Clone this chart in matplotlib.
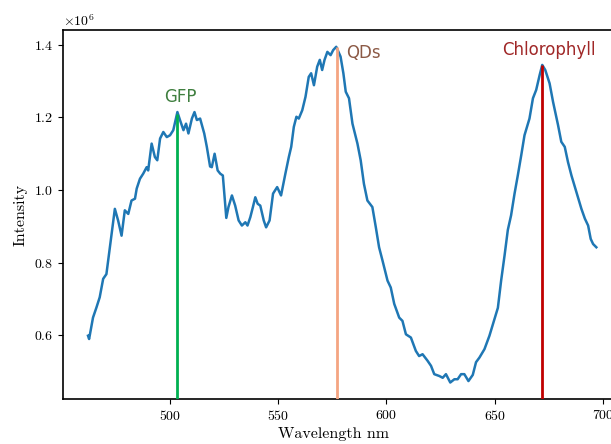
import matplotlib
matplotlib.use("Agg")
import matplotlib.pyplot as plt
import numpy as np

plt.rcParams['font.family'] = ['cmr10']
plt.rcParams['mathtext.fontset'] = 'cm'
plt.rcParams['axes.formatter.use_mathtext'] = True

wavelength = [
    462.1, 462.6, 464.4, 466.0, 467.5, 469.1, 470.6, 472.2, 474.5, 476.0, 477.6, 479.1,
    480.7, 482.2, 483.8, 484.6, 486.1, 487.6, 489.2, 489.9, 491.5, 493.0, 494.1, 495.4,
    496.9, 498.5, 500.0, 501.5, 503.4, 504.6, 506.2, 507.4, 508.5, 510.1, 511.3, 512.4,
    513.9, 515.8, 517.0, 518.5, 519.3, 520.6, 522.0, 523.2, 524.4, 526.0, 527.0, 528.6,
    530.1, 531.7, 533.2, 534.8, 535.8, 537.1, 538.3, 539.4, 540.5, 541.7, 543.3, 544.4,
    546.0, 547.6, 549.5, 551.3, 553.3, 554.9, 556.0, 557.2, 558.4, 559.5, 561.1, 562.6,
    564.1, 565.2, 566.5, 568.0, 569.2, 570.3, 571.4, 572.7, 574.2, 575.4, 576.8, 578.8,
    580.1, 581.2, 582.7, 584.3, 586.6, 588.1, 589.6, 591.2, 593.5, 595.1, 596.6, 598.2,
    600.5, 602.0, 603.6, 605.9, 607.4, 609.0, 611.3, 613.6, 615.1, 616.7, 619.0, 620.6,
    622.1, 624.4, 626.0, 627.5, 629.5, 631.4, 632.9, 634.5, 636.0, 637.9, 639.9, 641.4,
    643.0, 645.3, 647.6, 649.9, 651.5, 653.0, 654.6, 656.1, 657.6, 659.2, 660.7, 662.3,
    663.8, 666.1, 667.7, 669.2, 670.8, 672.0, 673.4, 675.4, 677.0, 679.3, 680.8, 682.4,
    683.9, 685.5, 687.8, 690.1, 691.7, 693.2, 694.4, 695.5, 697.0,
]
intensity_e6 = [
    0.598, 0.589, 0.648, 0.676, 0.704, 0.755, 0.768, 0.842, 0.948, 0.916, 0.874, 0.944,
    0.934, 0.971, 0.976, 1.004, 1.031, 1.045, 1.063, 1.054, 1.128, 1.091, 1.082, 1.142,
    1.160, 1.146, 1.151, 1.165, 1.215, 1.193, 1.165, 1.183, 1.156, 1.197, 1.215, 1.193,
    1.197, 1.156, 1.119, 1.065, 1.063, 1.100, 1.054, 1.045, 1.040, 0.923, 0.953, 0.985,
    0.957, 0.916, 0.902, 0.911, 0.902, 0.925, 0.953, 0.980, 0.962, 0.957, 0.916, 0.897,
    0.916, 0.990, 1.008, 0.985, 1.045, 1.091, 1.119, 1.174, 1.202, 1.197, 1.220, 1.257,
    1.312, 1.322, 1.289, 1.340, 1.359, 1.331, 1.359, 1.381, 1.372, 1.386, 1.395, 1.368,
    1.322, 1.271, 1.253, 1.183, 1.128, 1.082, 1.017, 0.971, 0.953, 0.897, 0.842, 0.805,
    0.750, 0.731, 0.686, 0.648, 0.639, 0.602, 0.593, 0.556, 0.542, 0.547, 0.529, 0.515,
    0.492, 0.487, 0.482, 0.492, 0.469, 0.478, 0.478, 0.492, 0.492, 0.473, 0.490, 0.525,
    0.538, 0.561, 0.598, 0.644, 0.675, 0.750, 0.820, 0.890, 0.930, 0.990, 1.040, 1.096,
    1.151, 1.197, 1.253, 1.276, 1.317, 1.345, 1.331, 1.294, 1.243, 1.179, 1.133, 1.119,
    1.077, 1.040, 0.994, 0.948, 0.921, 0.902, 0.865, 0.851, 0.842,
]

marker_names = ["GFP", "QDs", "Chlorophyll"]
marker_wl = [503, 577, 672]
marker_top_e6 = [1.21, 1.395, 1.345]
marker_colors = ["#00b050", "#f4a582", "#c00000"]
label_colors = ["#3f7f3f", "#8c5a46", "#a02828"]
label_pos = [(505.0, 1.257), (589.3, 1.379), (675.2, 1.385)]

W, H = 611, 444
fig = plt.figure(figsize=(W / 100, H / 100), dpi=100)
left_px, right_px = 62.7, 672.0
ax = fig.add_axes([left_px / W, 0.1007, (right_px - left_px) / W, 0.8317])

y = np.array(intensity_e6) * 1e6
ax.plot(wavelength, y, color="#1f77b4", lw=1.8, zorder=2)
ylo, yhi = ax.get_ylim()
xlo = 450.4
px_per_nm = 2.164
xhi = xlo + (right_px - left_px) / px_per_nm

for wl, top, c in zip(marker_wl, marker_top_e6, marker_colors):
    ax.vlines(wl, ylo, top * 1e6, color=c, lw=2.0, zorder=3)

for name, (lx, ly), c in zip(marker_names, label_pos, label_colors):
    ax.text(lx, ly * 1e6, name, color=c, fontsize=12, ha="center", va="center",
            family=["DejaVu Sans"])

ax.set_ylim(ylo, yhi)
ax.set_xlim(xlo, xhi)
ax.set_xticks([500, 550, 600, 650, 700])
ax.set_yticks([0.6e6, 0.8e6, 1.0e6, 1.2e6, 1.4e6])
ax.tick_params(labelsize=10)
ax.set_xlabel("Wavelength nm", fontsize=11.5, labelpad=3)
ax.xaxis.set_label_coords((333.0 - left_px) / (right_px - left_px), -0.075)
ax.set_ylabel("Intensity", fontsize=11.5)
for s in ax.spines.values():
    s.set_linewidth(1.2)
ax.spines['right'].set_visible(False)

fig.savefig("out.png", dpi=100)
